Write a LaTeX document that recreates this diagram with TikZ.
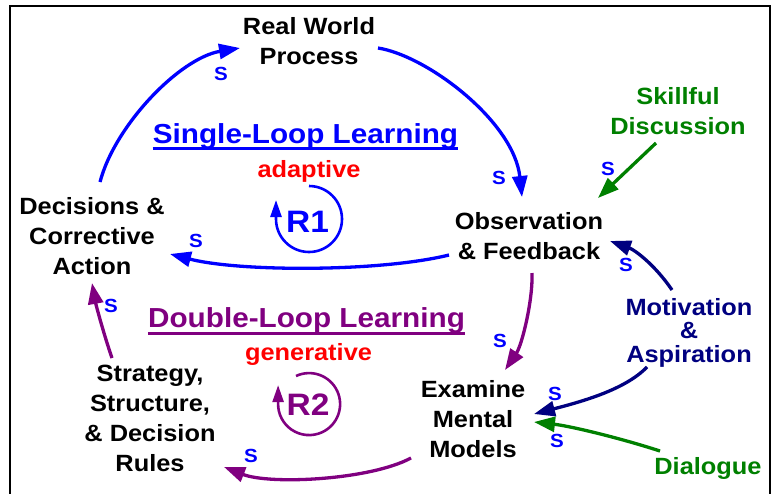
\documentclass[tikz,border=0pt]{standalone}
\usepackage{fontspec}
\setmainfont{Liberation Sans}[FakeStretch=1.08]
\usetikzlibrary{arrows.meta}
\definecolor{cblue}{RGB}{0,0,255}
\definecolor{cgreen}{RGB}{0,128,0}
\definecolor{cnavy}{RGB}{0,0,128}
\definecolor{cpurple}{RGB}{128,0,128}
\definecolor{cred}{RGB}{255,0,0}
\begin{document}
\begin{tikzpicture}[x=1pt,y=-1pt,
  lab/.style={font=\bfseries\fontsize{23.5}{30}\selectfont, align=center, inner sep=0pt, anchor=north},
  labtight/.style={font=\bfseries\fontsize{23.5}{23.5}\selectfont, align=center, inner sep=0pt, anchor=north},
  ttl/.style={font=\bfseries\fontsize{27.5}{30}\selectfont, inner sep=0pt, anchor=north},
  sub/.style={font=\bfseries\fontsize{23.5}{30}\selectfont, inner sep=0pt, anchor=base, text=cred},
  rlab/.style={font=\bfseries\fontsize{31}{31}\selectfont, inner sep=0pt, anchor=base},
  slab/.style={font=\bfseries\fontsize{19}{19}\selectfont, inner sep=0pt, text=cblue},
  arr/.style={line width=3.3pt, -{Triangle[length=21pt,width=15pt]}},
  loopc/.style={line width=2.6pt, -{Triangle[length=17pt,width=11pt]}}]
\useasboundingbox (0,0) rectangle (773,493);
\draw[line width=2pt] (10,6) rectangle (770,520);

% main nodes
\node[lab] (rw) at (309,17) {Real World\\Process};
\node[lab] (dec) at (92,197) {Decisions \&\\Corrective\\Action};
\node[lab] (obs) at (529,212) {Observation\\\& Feedback};
\node[lab] (exa) at (473,380) {Examine\\Mental\\Models};
\node[lab] (str) at (150,365) {Strategy,\\Structure,\\\& Decision\\Rules};
\node[lab, text=cgreen] (skd) at (678,87) {Skillful\\Discussion};
\node[labtight, text=cnavy] (mot) at (689,298) {Motivation\\\&\\Aspiration};
\node[lab, text=cgreen] (dia) at (708,457) {Dialogue};

% titles
\node[ttl, text=cblue] (sl) at (305.5,123) {Single-Loop Learning};
\draw[cblue, line width=3pt] ([yshift=-5pt]sl.base west) -- ([yshift=-5pt]sl.base east);
\node[sub] (ad) at (309,177) {adaptive};
\node[ttl, text=cpurple] (dl) at (306.5,307) {Double-Loop Learning};
\draw[cpurple, line width=3pt] ([yshift=-6pt]dl.base west) -- ([yshift=-6pt]dl.base east);
\node[sub] (gen) at (308.5,360) {generative};

% loop markers
\node[rlab, text=cblue] (r1) at (307.5,232) {R1};
\draw[cblue, loopc] (309,186) arc[start angle=-90, end angle=180, radius=33] -- ++(0,-19);
\node[rlab, text=cpurple] (r2) at (308,415) {R2};
\draw[cpurple, loopc] (296,376) arc[start angle=-115, end angle=180, radius=31] -- ++(0,-19);

% connectors
\draw[arr, cblue] ([shift={(8,-15)}]dec.north) .. controls (115,125) and (180,58) .. ([shift={(-69,31)}]rw.north);
\draw[arr, cblue] ([shift={(69,31)}]rw.north) .. controls (428,56) and (514,122) .. ([shift={(-7,-15)}]obs.north);
\draw[arr, cblue] ([shift={(-80,43)}]obs.north) .. controls (380,272) and (240,272) .. ([shift={(78,57)}]dec.north);
\draw[arr, cgreen] ([shift={(-22,56)}]skd.north) -- ([shift={(69,-14)}]obs.north);
\draw[arr, cnavy] ([shift={(-17,-8)}]mot.north) .. controls (655,265) and (635,250) .. ([shift={(81,29)}]obs.north);
\draw[arr, cpurple] ([shift={(3,61)}]obs.north) .. controls (533,300) and (522,345) .. ([shift={(32,-10)}]exa.north);
\draw[arr, cnavy] ([shift={(-42,69)}]mot.north) .. controls (625,390) and (580,402) .. ([shift={(61,34)}]exa.north);
\draw[arr, cgreen] ([shift={(-48,-6)}]dia.north) .. controls (620,438) and (570,426) .. ([shift={(61,42)}]exa.north);
\draw[arr, cpurple] ([shift={(-62,78)}]exa.north) .. controls (370,480) and (270,485) .. ([shift={(74,102)}]str.north);
\draw[arr, cpurple] ([shift={(-38,-7)}]str.north) .. controls (104,335) and (96,305) .. ([shift={(0,86)}]dec.north);

% polarity labels
\node[slab] (s1) at (221,74) {S};
\node[slab] (s2) at (499,178) {S};
\node[slab] (s3) at (196,241) {S};
\node[slab] (s4) at (608,169) {S};
\node[slab] (s5) at (626,265) {S};
\node[slab] (s6) at (500,341) {S};
\node[slab] (s7) at (555,394) {S};
\node[slab] (s8) at (557,441) {S};
\node[slab] (s9) at (251,456) {S};
\node[slab] (s10) at (111,306) {S};
\end{tikzpicture}
\end{document}
